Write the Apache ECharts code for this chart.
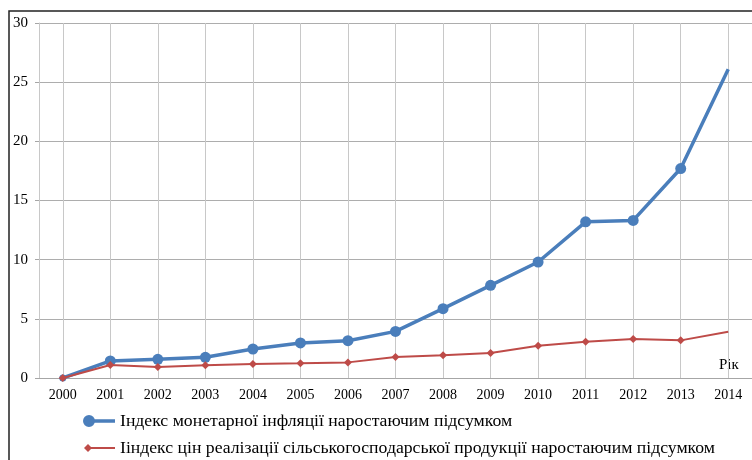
<!DOCTYPE html>
<html lang="uk">
<head>
    <meta charset="UTF-8">
    <title>Індекси</title>
    <style>
        html, body { margin: 0; padding: 0; background: #fff; }
    </style>
</head>
<body>
    <div id="chart" style="width:752px; height:460px;"></div>

    <script src="https://cdn.jsdelivr.net/npm/echarts@6/dist/echarts.min.js"></script>
    <script type="text/javascript">
      var years = ['2000', '2001', '2002', '2003', '2004', '2005', '2006', '2007',
                   '2008', '2009', '2010', '2011', '2012', '2013', '2014'];
      var monetaryIndex = [0, 1.44, 1.58, 1.75, 2.45, 2.96, 3.15, 3.94, 5.86, 7.83, 9.8, 13.2, 13.32, 17.7, 26.1];
      var agroPriceIndex = [0, 1.1, 0.93, 1.07, 1.18, 1.24, 1.32, 1.77, 1.92, 2.11, 2.73, 3.07, 3.3, 3.18, 3.91];
      var seriesNames = [
        'Індекс монетарної інфляції наростаючим підсумком',
        'Ііндекс цін реалізації сільськогосподарської продукції наростаючим підсумком'
      ];
      var yTicks = [0, 5, 10, 15, 20, 25, 30];

      var serif = '"Liberation Serif", "DejaVu Serif", serif';
      var blue = '#4a7ebb';
      var red = '#be4b48';
      var gridColor = '#c8c8c8';

      // Excel-like legend keys: marker sits at the left end of the line (box 32x12)
      var blueIcon = 'path://M0,6 A6,6 0 1,1 12,6 A6,6 0 1,1 0,6 Z M6,4.2 L32,4.2 L32,7.8 L6,7.8 Z';
      var redIcon = 'path://M1,6 L5,2 L9,6 L5,10 Z M5,5.1 L32,5.1 L32,6.9 L5,6.9 Z M0,0 L0.01,0 L0.01,0.01 Z M0,12 L0.01,12 L0.01,11.99 Z';

      // per-point data: first point drawn smaller, last point without marker
      function points(values, firstSize) {
        return values.map(function (v, i) {
          if (i === values.length - 1) return { value: v, symbol: 'none' };
          if (i === 0) return { value: v, symbolSize: firstSize };
          return v;
        });
      }

      var myChart = echarts.init(document.getElementById('chart'));
      var option = {
        animation: false,
        backgroundColor: '#fff',
        grid: { left: 39, right: 0, top: 23, bottom: 82, containLabel: false },
        xAxis: {
          type: 'category',
          data: years,
          boundaryGap: true,
          axisLine: { lineStyle: { color: '#a6a6a6', width: 1 } },
          axisTick: { show: false },
          axisLabel: { color: '#000', fontFamily: serif, fontSize: 14, margin: 10, interval: 0 },
          splitLine: { show: true, alignWithLabel: true, lineStyle: { color: gridColor, width: 1 } }
        },
        yAxis: {
          type: 'value',
          min: yTicks[0],
          max: yTicks[yTicks.length - 1],
          interval: 5,
          axisLine: { show: true, lineStyle: { color: '#c8c8c8', width: 1 } },
          axisTick: { show: true, length: 4, lineStyle: { color: '#a6a6a6' } },
          axisLabel: { color: '#000', fontFamily: serif, fontSize: 15, margin: 11 },
          splitLine: { lineStyle: { color: '#adadad', width: 1 } }
        },
        legend: {
          orient: 'vertical',
          left: 83,
          top: 412,
          height: 120,
          padding: 0,
          itemWidth: 32,
          itemHeight: 12,
          itemGap: 9,
          textStyle: { color: '#000', fontFamily: serif, fontSize: 17.7 },
          data: [
            { name: seriesNames[0], icon: blueIcon, itemStyle: { color: blue, borderWidth: 0 } },
            { name: seriesNames[1], icon: redIcon, itemStyle: { color: red, borderWidth: 0 } }
          ]
        },
        graphic: [
          {
            type: 'polyline',
            shape: { points: [[9, 460], [9, 11], [752, 11]] },
            style: { stroke: '#222', lineWidth: 1.5, fill: null }
          },
          {
            type: 'text',
            left: 719,
            top: 358,
            style: { text: 'Рік', fill: '#000', font: '15px ' + serif }
          }
        ],
        series: [
          {
            name: seriesNames[1],
            type: 'line',
            data: points(agroPriceIndex, 8),
            symbol: 'diamond',
            symbolSize: 8,
            lineStyle: { color: red, width: 2 },
            itemStyle: { color: red },
            z: 2
          },
          {
            name: seriesNames[0],
            type: 'line',
            data: points(monetaryIndex, 7),
            symbol: 'circle',
            symbolSize: 11,
            lineStyle: { color: blue, width: 3.5 },
            itemStyle: { color: blue },
            z: 1
          }
        ]
      };
      myChart.setOption(option);
    </script>
</body>
</html>
